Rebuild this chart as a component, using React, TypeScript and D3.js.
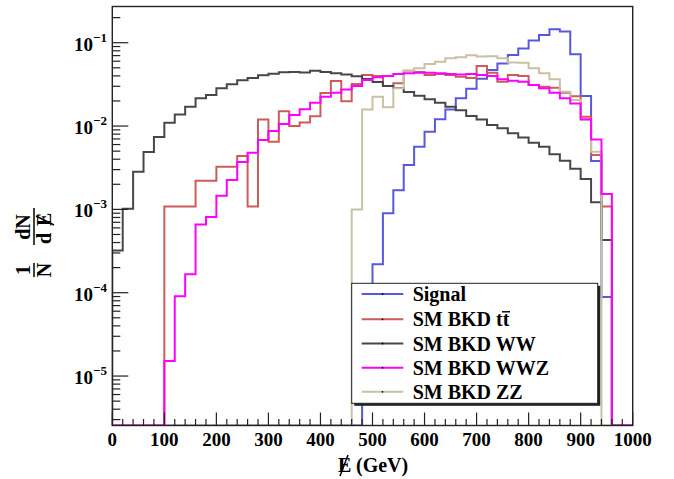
import React from 'react';
import * as d3 from 'd3';

const W = 674;
const H = 479;
const binLow = 0;
const binWidth = 20;

const signal = [0,0,0,0,0,0,0,0,0,0, 0,0,0,0,0,0,0,0,0,0, 0,0,0,0,4e-5,2.2e-4,9.0e-4,1.7e-3,3.4e-3,5.65e-3, 8.55e-3,1.21e-2,1.58e-2,2.15e-2,2.8e-2,3.7e-2,4.7e-2,5.65e-2,7.1e-2,8.55e-2, 0.106,0.124,0.145,0.136,0.0726,0.0229,0.0038,8.9e-5,0,0];
const ttbar = [0,0,0,0,0,1.08e-3,1.08e-3,1.08e-3,2.2e-3,2.2e-3, 3.25e-3,3.25e-3,4.37e-3,1.08e-3,1.2e-2,6.5e-3,1.51e-2,1.0e-2,1.1e-2,1.31e-2, 2.49e-2,3.47e-2,1.98e-2,3.19e-2,4.09e-2,4.0e-2,3.02e-2,3.26e-2,4.6e-2,4.45e-2, 4.09e-2,4.2e-2,4.09e-2,3.9e-2,3.77e-2,5.25e-2,4.37e-2,3.4e-2,4.09e-2,3.98e-2, 3.1e-2,2.97e-2,2.88e-2,2.51e-2,2.28e-2,1.29e-2,4.5e-3,1.08e-3,0,0];
const ww = [3.2e-4,1.02e-3,2.83e-3,4.88e-3,7.38e-3,1.096e-2,1.38e-2,1.71e-2,2.15e-2,2.36e-2, 2.84e-2,3.17e-2,3.54e-2,3.77e-2,4.06e-2,4.25e-2,4.42e-2,4.45e-2,4.4e-2,4.61e-2, 4.45e-2,4.3e-2,4.15e-2,3.95e-2,3.66e-2,3.37e-2,3.02e-2,2.86e-2,2.56e-2,2.31e-2, 2.09e-2,1.9e-2,1.71e-2,1.55e-2,1.32e-2,1.2e-2,1.03e-2,9.4e-3,8.2e-3,7.3e-3, 6.3e-3,5.65e-3,4.6e-3,3.84e-3,3.08e-3,2.31e-3,1.22e-3,4.3e-4,0,0];
const wwz = [0,0,0,0,0,1.52e-5,9.1e-5,1.67e-4,6.6e-4,8.1e-4, 1.46e-3,2.25e-3,3.7e-3,4.78e-3,6.8e-3,8.7e-3,1.06e-2,1.36e-2,1.59e-2,1.9e-2, 2.25e-2,2.51e-2,2.75e-2,3.02e-2,3.56e-2,3.85e-2,3.98e-2,4.2e-2,4.3e-2,4.37e-2, 4.37e-2,4.3e-2,4.2e-2,4.15e-2,4.2e-2,4.09e-2,3.98e-2,3.64e-2,3.5e-2,3.4e-2, 3.1e-2,2.84e-2,2.51e-2,2.15e-2,1.87e-2,1.21e-2,6.9e-3,1.53e-3,0,0];
const zz = [0,0,0,0,0,0,0,0,0,0, 0,0,0,0,0,0,0,0,0,0, 0,0,0,1e-3,1.58e-2,2.25e-2,1.68e-2,2.84e-2,4.6e-2,4.93e-2, 5.55e-2,5.9e-2,6.5e-2,6.7e-2,7.06e-2,6.85e-2,6.9e-2,6.5e-2,5.8e-2,5.75e-2, 4.93e-2,4.29e-2,3.64e-2,2.58e-2,2.05e-2,1.18e-2,4.9e-3,0,0,0];

const seriesNames = ['Signal', 'SM BKD tt', 'SM BKD WW', 'SM BKD WWZ', 'SM BKD ZZ'];
const seriesColors = ['#5858dc', '#cd5b5b', '#474747', '#ff00ff', '#c9c1a3'];
const seriesData = [signal, ttbar, ww, wwz, zz];
const drawOrder = [0, 1, 2, 4, 3];

const xTicks = [0, 100, 200, 300, 400, 500, 600, 700, 800, 900, 1000];
const yDecades = [-5, -4, -3, -2, -1];

const FONT = '"Liberation Serif", "Times New Roman", serif';

export default function App() {
  const x = d3.scaleLinear().domain([0, 1000]).range([112.3, 632.7]);
  const y = d3.scaleLog().domain([2.55e-6, 0.272]).range([425.5, 6.5]);
  const [x0, x1] = x.range();
  const [yb, yt] = y.range();

  const stepPath = (vals: number[]) => {
    let d = `M${x(binLow)},${yb}`;
    vals.forEach((v, i) => {
      const yy = v > 0 ? y(v) : yb;
      d += `L${x(binLow + i * binWidth)},${yy}L${x(binLow + (i + 1) * binWidth)},${yy}`;
    });
    d += `L${x(binLow + vals.length * binWidth)},${yb}`;
    return d;
  };

  const minorY: number[] = [];
  for (let e = -6; e <= 0; e++) {
    for (let k = 2; k <= 9; k++) {
      const v = k * Math.pow(10, e);
      if (v >= y.domain()[0] && v <= y.domain()[1]) minorY.push(v);
    }
  }
  const minorX = d3.range(0, 1001, 20).filter((v) => v % 100 !== 0);

  const legX = 351.7, legY = 283.3, legW = 246, legH = 120;
  const rowY = [294, 319.3, 343.5, 367.7, 391.8];

  return (
    <svg width={W} height={H} style={{ position: 'absolute', left: 0, top: 0, background: '#fff' }} fontFamily={FONT}>
      <rect x={0} y={0} width={W} height={H} fill="#fff" />
      <defs>
        <clipPath id="plotclip">
          <rect x={x0} y={yt} width={x1 - x0} height={yb - yt} />
        </clipPath>
      </defs>
      <g clipPath="url(#plotclip)">
        {drawOrder.map((si) => (
          <path key={si} d={stepPath(seriesData[si])} fill="none" stroke={seriesColors[si]} strokeWidth={2} />
        ))}
      </g>
      {/* frame */}
      <rect x={x0} y={yt} width={x1 - x0} height={yb - yt} fill="none" stroke="#222" strokeWidth={1.4} />
      {/* y ticks */}
      {yDecades.map((e) => (
        <line key={'ym' + e} x1={x0} x2={x0 + 16} y1={y(Math.pow(10, e))} y2={y(Math.pow(10, e))} stroke="#222" strokeWidth={1.2} />
      ))}
      {minorY.map((v, i) => (
        <line key={'yn' + i} x1={x0} x2={x0 + 8} y1={y(v)} y2={y(v)} stroke="#222" strokeWidth={1.2} />
      ))}
      {/* x ticks */}
      {xTicks.map((v) => (
        <line key={'xm' + v} x1={x(v)} x2={x(v)} y1={yb} y2={yb - 13} stroke="#222" strokeWidth={1.2} />
      ))}
      {minorX.map((v) => (
        <line key={'xn' + v} x1={x(v)} x2={x(v)} y1={yb} y2={yb - 6.5} stroke="#222" strokeWidth={1.2} />
      ))}
      {/* x tick labels */}
      {xTicks.map((v) => (
        <text key={'xl' + v} x={x(v)} y={446} textAnchor="middle" fontSize={19} fontWeight="bold" fill="#000">{v}</text>
      ))}
      {/* y tick labels */}
      {yDecades.map((e) => (
        <text key={'yl' + e} x={107} y={y(Math.pow(10, e)) + 8} textAnchor="end" fontWeight="bold" fill="#000">
          <tspan fontSize={19}>10</tspan>
          <tspan fontSize={13} dy={-9}>{'\u2212' + Math.abs(e)}</tspan>
        </text>
      ))}
      {/* x title */}
      <g fontWeight="bold" fontSize={20} fill="#000">
        <text x={338} y={472}>E</text>
        <line x1={340} y1={476} x2={348} y2={455} stroke="#000" strokeWidth={1.5} />
        <text x={356} y={472}>(GeV)</text>
      </g>
      {/* y title */}
      <g transform="translate(34,240) rotate(-90)" fontWeight="bold" fontSize={20} fill="#000">
        <text x={-30} y={-4} textAnchor="middle">1</text>
        <line x1={-37} x2={-23} y1={0} y2={0} stroke="#000" strokeWidth={1.5} />
        <text x={-30} y={17} textAnchor="middle">N</text>
        <text x={13} y={-4} textAnchor="middle">dN</text>
        <line x1={-5} x2={32} y1={0} y2={0} stroke="#000" strokeWidth={1.5} />
        <text x={-4} y={17}>d</text>
        <text x={14} y={17}>E</text>
        <line x1={15} y1={20} x2={24} y2={2} stroke="#000" strokeWidth={1.4} />
      </g>
      {/* legend */}
      <rect x={legX + 2.5} y={legY + 2.5} width={legW} height={legH} fill="#222" />
      <rect x={legX} y={legY} width={legW} height={legH} fill="#fff" stroke="#222" strokeWidth={1} />
      {seriesNames.map((nm, i) => (
        <g key={nm}>
          <line x1={361.7} x2={403.3} y1={rowY[i]} y2={rowY[i]} stroke={seriesColors[i]} strokeWidth={2} />
          <circle cx={382.5} cy={rowY[i]} r={0.9} fill="#000" />
          <text x={412.7} y={rowY[i] + 7} fontSize={20} fontWeight="bold" fill="#000">{nm}</text>
          {i === 1 ? <line x1={502} x2={510} y1={rowY[i] - 7.5} y2={rowY[i] - 7.5} stroke="#000" strokeWidth={1.4} /> : null}
        </g>
      ))}
    </svg>
  );
}
